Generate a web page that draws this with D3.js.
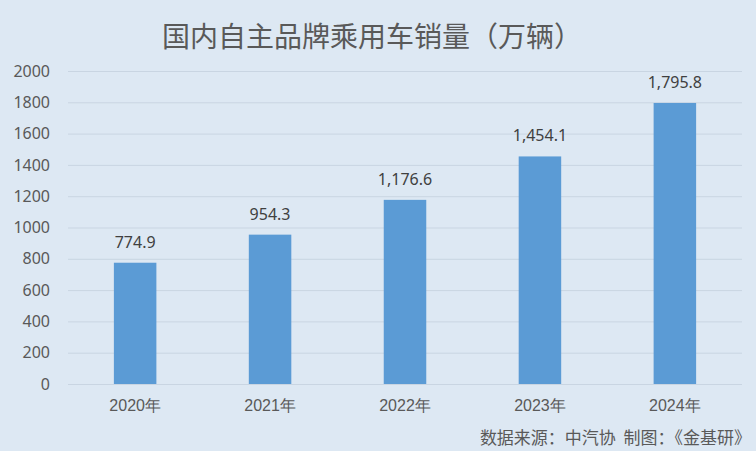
<!DOCTYPE html>
<html>
<head>
<meta charset="utf-8">
<script src="https://cdn.jsdelivr.net/npm/d3@7"></script>
<style>
  html, body { margin: 0; padding: 0; background: #dde8f3; }
  svg { display: block; font-family: "Noto Sans CJK SC", "Noto Sans", sans-serif; }
</style>
</head>
<body>
<svg id="chart" width="756" height="451"></svg>
<script>
/* Domestic brand passenger car sales, bar chart */

const years = ['2020年', '2021年', '2022年', '2023年', '2024年'];
const sales = [774.9, 954.3, 1176.6, 1454.1, 1795.8];
const yTicks = [0, 200, 400, 600, 800, 1000, 1200, 1400, 1600, 1800, 2000];

const width = 756, height = 451;
const margin = { top: 71, right: 14, bottom: 67, left: 68 };

const svg = d3.select('#chart');

svg.append('rect')
  .attr('width', width)
  .attr('height', height)
  .attr('fill', '#dde8f3');

const x = d3.scaleBand()
  .domain(years)
  .range([margin.left, width - margin.right])
  .paddingInner(0.685)
  .paddingOuter(0.34);

const y = d3.scaleLinear()
  .domain([0, 2000])
  .range([height - margin.bottom, margin.top]);

// Gridlines
svg.append('g')
  .selectAll('line')
  .data(yTicks)
  .join('line')
  .attr('x1', margin.left)
  .attr('x2', width - margin.right)
  .attr('y1', d => y(d) + 0.5)
  .attr('y2', d => y(d) + 0.5)
  .attr('stroke', '#c9d5e2')
  .attr('stroke-width', 1);

// Y axis labels
const yAxis = svg.append('g')
  .attr('transform', `translate(${margin.left - 18},0)`)
  .call(d3.axisLeft(y).tickValues(yTicks).tickFormat(d3.format('d')).tickSize(0).tickPadding(0));
yAxis.select('.domain').remove();
yAxis.selectAll('text')
  .attr('font-size', 16)
  .attr('fill', '#595959')
  .attr('font-family', '"Noto Sans", sans-serif');

// X axis labels
const xAxis = svg.append('g')
  .attr('transform', `translate(0,${height - margin.bottom})`)
  .call(d3.axisBottom(x).tickSize(0).tickPadding(16));
xAxis.select('.domain').remove();
xAxis.selectAll('text')
  .attr('font-size', 16)
  .attr('fill', '#595959');

// Bars
svg.append('g')
  .selectAll('rect')
  .data(sales)
  .join('rect')
  .attr('x', (d, i) => x(years[i]))
  .attr('y', d => y(d))
  .attr('width', x.bandwidth())
  .attr('height', d => y(0) - y(d))
  .attr('fill', '#5b9bd5');

// Value labels
svg.append('g')
  .selectAll('text')
  .data(sales)
  .join('text')
  .attr('x', (d, i) => x(years[i]) + x.bandwidth() / 2)
  .attr('y', d => y(d) - 15)
  .attr('text-anchor', 'middle')
  .attr('font-size', 16)
  .attr('fill', '#404040')
  .attr('font-family', '"Noto Sans", sans-serif')
  .text(d => d3.format(',.1f')(d));

// Title
svg.append('text')
  .attr('x', 372)
  .attr('y', 47)
  .attr('text-anchor', 'middle')
  .attr('font-size', 28)
  .attr('fill', '#595959')
  .text('国内自主品牌乘用车销量（万辆）');

// Source note
svg.append('text')
  .attr('x', width - 5)
  .attr('y', 444)
  .attr('text-anchor', 'end')
  .attr('font-size', 17)
  .attr('fill', '#595959')
  .style('white-space', 'pre')
  .text('数据来源：中汽协  制图：《金基研》');
</script>
</body>
</html>
